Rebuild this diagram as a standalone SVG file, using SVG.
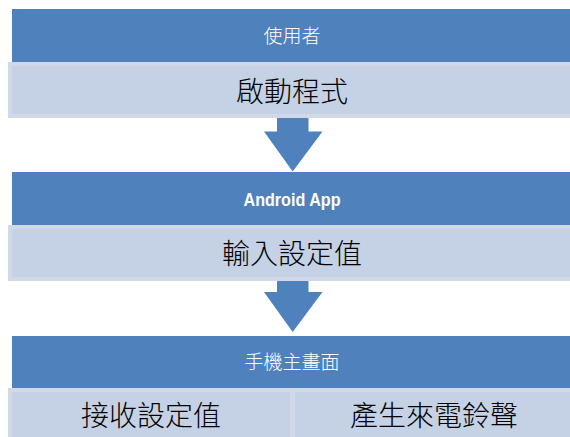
<svg xmlns="http://www.w3.org/2000/svg" width="570" height="437" viewBox="0 0 570 437">
<style>
.hdr{fill:#4f81bd}
.pnl{fill:#c5d1e4;stroke:#d1d9e8;stroke-width:4}
.arr{fill:#4f81bd}
.ht{fill:#ffffff;font-family:"Noto Sans CJK TC","Noto Sans CJK SC",sans-serif;font-size:19px;text-anchor:middle;font-weight:300}
.bt{fill:#000000;font-family:"Noto Sans CJK TC","Noto Sans CJK SC",sans-serif;font-size:28px;text-anchor:middle;font-weight:300}
.en{fill:#ffffff;font-family:"Liberation Sans",Arial,sans-serif;font-size:18px;font-weight:bold;text-anchor:middle}
</style>
<rect width="570" height="437" fill="#ffffff"/>
<g id="user">
<rect class="hdr" x="12" y="9" width="570" height="53"/>
<text class="ht" x="292" y="43">使用者</text>
</g>
<g id="start">
<rect class="pnl" x="10" y="64" width="600" height="52"/>
<text class="bt" x="292" y="102">啟動程式</text>
</g>
<g id="app">
<rect class="hdr" x="12" y="172" width="570" height="53"/>
<text class="en" x="292" y="206" textLength="97" lengthAdjust="spacingAndGlyphs">Android App</text>
</g>
<g id="input">
<rect class="pnl" x="10" y="227" width="600" height="52"/>
<text class="bt" x="292" y="264">輸入設定值</text>
</g>
<g id="home">
<rect class="hdr" x="12" y="336" width="570" height="52"/>
<text class="ht" x="292" y="369">手機主畫面</text>
</g>
<g id="receive">
<rect class="pnl" x="10" y="390" width="282" height="60"/>
<text class="bt" x="151" y="426">接收設定值</text>
</g>
<g id="ring">
<rect class="pnl" x="293" y="390" width="320" height="60"/>
<text class="bt" x="434" y="426">產生來電鈴聲</text>
</g>
<g id="connectors">
<polygon class="arr" points="277,118 308.5,118 308.5,131.5 322.5,131.5 292.7,171.5 264,131.5 277,131.5"/>
<polygon class="arr" points="277,281 308.5,281 308.5,292 322.5,292 292.7,332 264,292 277,292"/>
</g>
</svg>
